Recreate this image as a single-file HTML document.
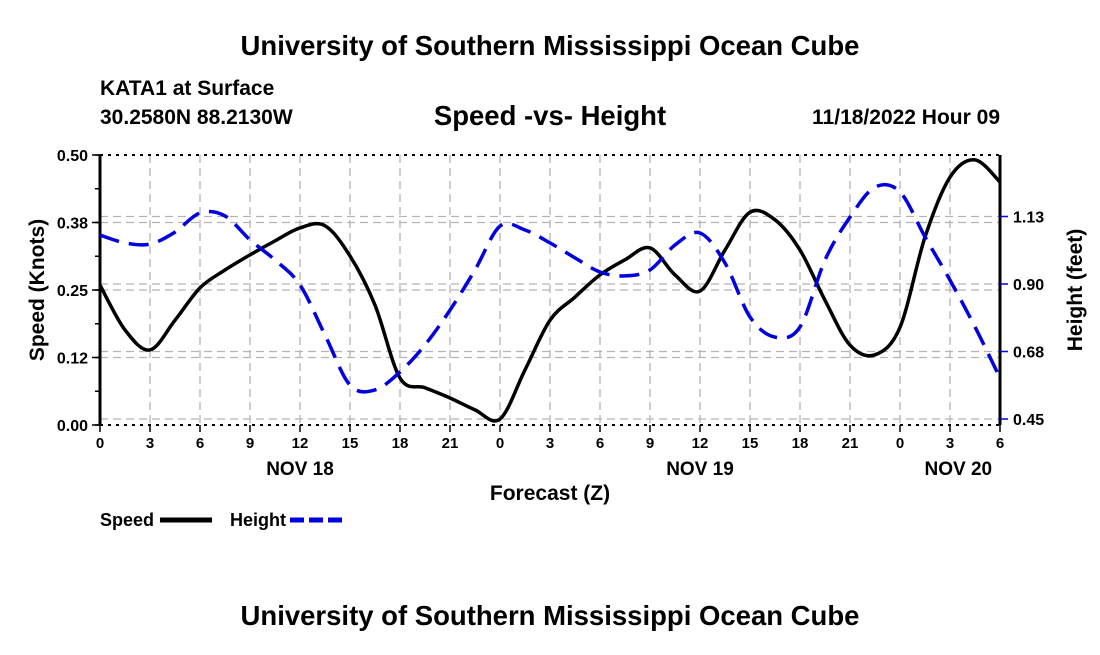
<!DOCTYPE html>
<html><head><meta charset="utf-8"><style>
body{margin:0;background:#fff;}
svg text{font-family:"Liberation Sans",sans-serif;font-weight:bold;fill:#000;}
</style></head><body>
<svg id="chart" width="1100" height="650" xmlns="http://www.w3.org/2000/svg">
<text x="550" y="55" font-size="27.5" text-anchor="middle">University of Southern Mississippi Ocean Cube</text>
<text x="100" y="95" font-size="21">KATA1 at Surface</text>
<text x="100" y="124" font-size="21">30.2580N  88.2130W</text>
<text x="550" y="125" font-size="27.5" text-anchor="middle">Speed -vs- Height</text>
<text x="1000" y="124" font-size="21" text-anchor="end">11/18/2022 Hour 09</text>
<g id="grid"></g>
<g id="axes"></g>
<g id="series"></g>
<text transform="translate(44,290) rotate(-90)" font-size="21" text-anchor="middle">Speed (Knots)</text>
<text transform="translate(1082,290) rotate(-90)" font-size="21" text-anchor="middle">Height (feet)</text>
<text x="550" y="500" font-size="21" text-anchor="middle">Forecast (Z)</text>
<g><text x="100" y="526" font-size="18">Speed</text><line x1="160" y1="520" x2="212" y2="520" stroke="#000" stroke-width="5"/></g>
<g><text x="230" y="526" font-size="18">Height</text><line x1="290" y1="520" x2="342" y2="520" stroke="#0000e0" stroke-width="5" stroke-dasharray="14,5"/></g>
<text x="550" y="625" font-size="27.5" text-anchor="middle">University of Southern Mississippi Ocean Cube</text>
</svg>
<script>
const hours=[0,1.5,3,4.5,6,7.5,9,10.5,12,13.5,15,16.5,18,19.5,21,22.5,24,25.5,27,28.5,30,31.5,33,34.5,36,37.5,39,40.5,42,43.5,45,46.5,48,49.5,51,52.5,54];
const speed=[.259,.176,.139,.194,.254,.287,.315,.341,.365,.369,.313,.222,.087,.069,.050,.028,.011,.102,.194,.237,.278,.306,.328,.278,.248,.324,.394,.380,.324,.231,.148,.130,.181,.348,.459,.491,.450];
const height=[1.063,1.037,1.033,1.073,1.137,1.127,1.047,.980,.897,.730,.563,.547,.607,.697,.813,.947,1.093,1.080,1.037,.987,.940,.927,.947,1.030,1.070,.970,.790,.723,.757,.980,1.123,1.223,1.207,1.057,.913,.757,.587];
const xTickLabels=["0","3","6","9","12","15","18","21","0","3","6","9","12","15","18","21","0","3","6"];
const dayLabels=["NOV 18","NOV 19","NOV 20"];
const dayHours=[12,36,51.5];
const leftTicks=[0,0.125,0.25,0.375,0.5];
const leftTickLabels=["0.00","0.12","0.25","0.38","0.50"];
const rightTicks=[0.45,0.675,0.9,1.125];
const rightTickLabels=["0.45","0.68","0.90","1.13"];
const X0=100,X1=1000,YT=155,YB=425;
const xS=h=>X0+h/54*(X1-X0);
const yL=v=>YB-v/0.5*(YB-YT);
const yR=v=>419-(v-0.45)*300;
const NS="http://www.w3.org/2000/svg";
function mk(tag,attrs,parent){const e=document.createElementNS(NS,tag);for(const k in attrs)e.setAttribute(k,attrs[k]);parent.appendChild(e);return e;}
const grid=document.getElementById('grid'),axes=document.getElementById('axes'),series=document.getElementById('series');
const gs={stroke:"#b4b4b4","stroke-width":1.3,"stroke-dasharray":"8,5"};
for(let i=1;i<xTickLabels.length-1;i++){const x=xS(i*3);const l=mk('line',Object.assign({x1:x,x2:x,y1:YT,y2:YB},gs),grid);}
leftTicks.slice(1,4).forEach(v=>{const l=mk('line',Object.assign({x1:X0,x2:X1,y1:yL(v),y2:yL(v)},gs),grid);});
rightTicks.forEach(v=>{const l=mk('line',Object.assign({x1:X0,x2:X1,y1:yR(v),y2:yR(v)},gs),grid);});
mk('line',{x1:X0,x2:X1,y1:YT,y2:YT,stroke:"#000","stroke-width":2,"stroke-dasharray":"3,5"},axes);
mk('line',{x1:X0,x2:X1,y1:YB,y2:YB,stroke:"#000","stroke-width":2,"stroke-dasharray":"3,5"},axes);
mk('line',{x1:X0,x2:X0,y1:YT,y2:YB,stroke:"#000","stroke-width":3},axes);
mk('line',{x1:X1,x2:X1,y1:YT,y2:YB,stroke:"#000","stroke-width":3},axes);
xTickLabels.forEach((t,i)=>{const x=xS(i*3);mk('line',{x1:x,x2:x,y1:YB,y2:YB+7,stroke:"#000","stroke-width":1.5},axes);const tx=mk('text',{x:x,y:448,"font-size":15,"text-anchor":"middle"},axes);tx.textContent=t;});
dayLabels.forEach((t,i)=>{const tx=mk('text',{x:xS(dayHours[i]),y:475,"font-size":19,"text-anchor":"middle"},axes);tx.textContent=t;});
for(let v=0;v<=0.5001;v+=0.0625){mk('line',{x1:X0-5,x2:X0,y1:yL(v),y2:yL(v),stroke:"#000","stroke-width":1.5},axes);}
leftTicks.forEach((v,i)=>{mk('line',{x1:X0-8,x2:X0,y1:yL(v),y2:yL(v),stroke:"#000","stroke-width":1.5},axes);const tx=mk('text',{x:X0-12,y:yL(v)+6,"font-size":16,"text-anchor":"end"},axes);tx.textContent=leftTickLabels[i];});
rightTicks.forEach((v,i)=>{mk('line',{x1:X1,x2:X1+8,y1:yR(v),y2:yR(v),stroke:"#0000e0","stroke-width":1.5},axes);const tx=mk('text',{x:X1+13,y:yR(v)+6,"font-size":16},axes);tx.textContent=rightTickLabels[i];});
function smooth(pts){let d="M"+pts[0][0]+","+pts[0][1];for(let i=0;i<pts.length-1;i++){const p0=pts[i-1]||pts[i],p1=pts[i],p2=pts[i+1],p3=pts[i+2]||p2;d+=" C"+(p1[0]+(p2[0]-p0[0])/6)+","+(p1[1]+(p2[1]-p0[1])/6)+" "+(p2[0]-(p3[0]-p1[0])/6)+","+(p2[1]-(p3[1]-p1[1])/6)+" "+p2[0]+","+p2[1];}return d;}
const sp=mk('path',{d:smooth(hours.map((h,i)=>[xS(h),yL(speed[i])])),fill:"none",stroke:"#000","stroke-width":3.5},series);


const hp=mk('path',{d:smooth(hours.map((h,i)=>[xS(h),yR(height[i])])),fill:"none",stroke:"#0000e0","stroke-width":3.5,"stroke-dasharray":"20,10"},series);


</script>
</body></html>
